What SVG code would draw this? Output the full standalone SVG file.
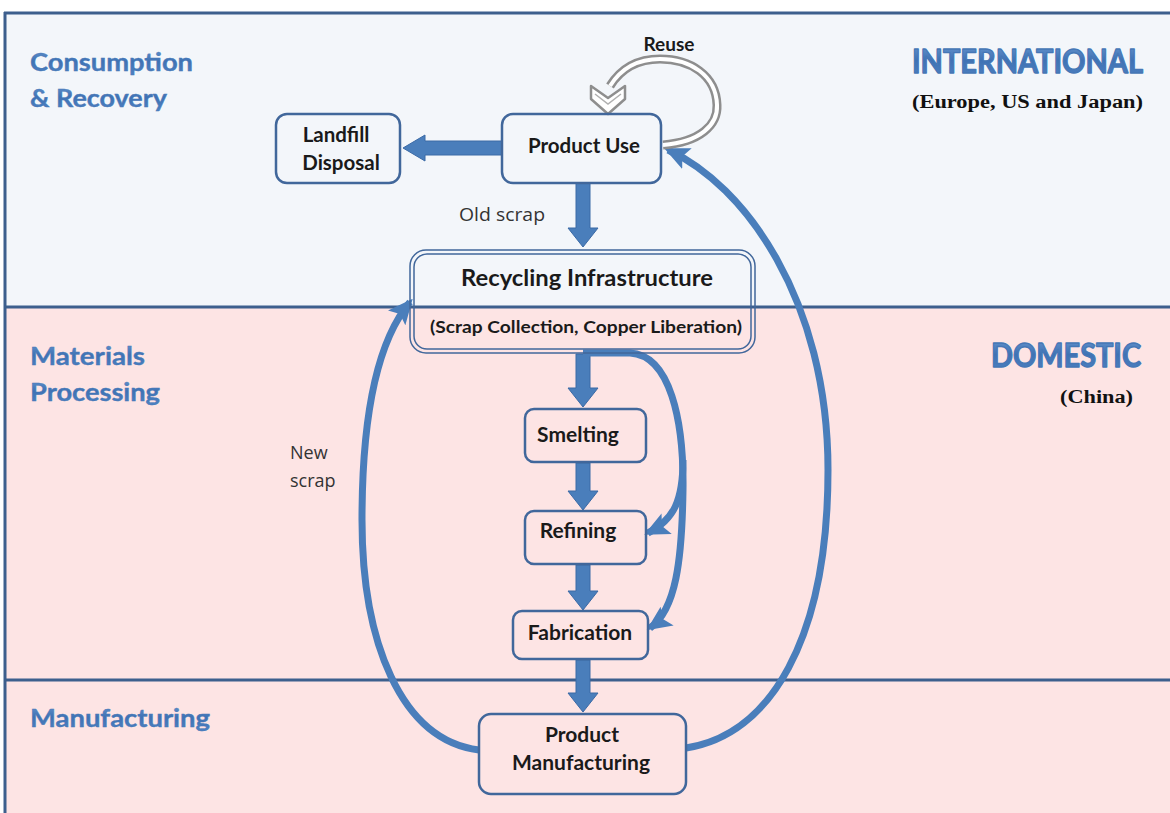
<svg xmlns="http://www.w3.org/2000/svg" width="1170" height="813" viewBox="0 0 1170 813">
  <style>
    .band-line { stroke: #3d5f8d; stroke-width: 3; fill: none; }
    .zone { font-family: Lato, "Open Sans", sans-serif; font-weight: bold; fill: url(#zoneGrad); stroke: #4577b6; stroke-width: 0.4; }
    .heavy { stroke-width: 1.3; stroke-linejoin: round; }
    .region { font-family: "Liberation Serif", serif; font-weight: bold; fill: #111; }
    .box { fill: none; stroke: #41679b; stroke-width: 2.5; }
    .label { font-family: Lato, "Open Sans", sans-serif; font-weight: bold; fill: #1a1a1a; text-anchor: middle; }
    .note { font-family: "Open Sans", Lato, sans-serif; fill: #333; }
    .block { fill: #4a7ebb; stroke: #3b6aa6; stroke-width: 1; }
    .flow { fill: none; stroke: #4a7ebb; stroke-width: 7; }
    .reuse-outer { fill: none; stroke: #8e8e8e; stroke-width: 9; }
    .reuse-inner { fill: none; stroke: #ffffff; stroke-width: 4; }
  </style>
  <defs>
    <linearGradient id="zoneGrad" x1="0" y1="0" x2="0" y2="1">
      <stop offset="0" stop-color="#6d9ad2"/>
      <stop offset="0.5" stop-color="#3f72b4"/>
      <stop offset="1" stop-color="#4f82c2"/>
    </linearGradient>
    <marker id="head" viewBox="0 0 24 22" refX="20" refY="11" markerWidth="25" markerHeight="23" markerUnits="userSpaceOnUse" orient="auto">
      <path d="M0,0 L24,11 L0,22 L5,11 z" fill="#4a7ebb"/>
    </marker>
  </defs>

  <!-- background bands -->
  <rect x="0" y="0" width="1170" height="813" fill="#ffffff"/>
  <rect x="5" y="13" width="1165" height="294" fill="#f3f6fa"/>
  <rect x="5" y="307" width="1165" height="506" fill="#fde4e4"/>
  <line class="band-line" x1="4" y1="13" x2="1170" y2="13"/>
  <line class="band-line" x1="5" y1="12" x2="5" y2="813"/>
  <line class="band-line" x1="5" y1="307" x2="1170" y2="307"/>
  <line class="band-line" x1="5" y1="680" x2="1170" y2="680"/>

  <!-- zone titles -->
  <g id="zones">
    <text class="zone" x="30" y="71" font-size="25" textLength="163" lengthAdjust="spacingAndGlyphs">Consumption</text>
    <text class="zone" x="30" y="107" font-size="25" textLength="137" lengthAdjust="spacingAndGlyphs">&amp; Recovery</text>
    <text class="zone" x="30" y="365" font-size="25" textLength="115" lengthAdjust="spacingAndGlyphs">Materials</text>
    <text class="zone" x="30" y="401" font-size="25" textLength="130" lengthAdjust="spacingAndGlyphs">Processing</text>
    <text class="zone" x="30" y="727" font-size="25" textLength="180" lengthAdjust="spacingAndGlyphs">Manufacturing</text>
    <text class="zone heavy" x="912" y="73" font-size="32" textLength="231" lengthAdjust="spacingAndGlyphs">INTERNATIONAL</text>
    <text class="region" x="912" y="108" font-size="18" textLength="231" lengthAdjust="spacingAndGlyphs">(Europe, US and Japan)</text>
    <text class="zone heavy" x="991" y="367" font-size="32" textLength="150" lengthAdjust="spacingAndGlyphs">DOMESTIC</text>
    <text class="region" x="1060" y="403" font-size="18" textLength="73" lengthAdjust="spacingAndGlyphs">(China)</text>
  </g>

  <!-- connectors -->
  <g id="connectors">
    <!-- straight block arrows -->
    <path class="block" d="M502,141 L425,141 L425,135 L403,148 L425,161 L425,155 L502,155 z"/>
    <path class="block" d="M576,183 L590,183 L590,228 L598,228 L583,247 L568,228 L576,228 z"/>
    <path class="block" d="M576,354 L590,354 L590,388 L598,388 L583,407 L568,388 L576,388 z"/>
    <path class="block" d="M576,463 L590,463 L590,491 L598,491 L583,510 L568,491 L576,491 z"/>
    <path class="block" d="M576,565 L590,565 L590,591 L598,591 L583,610 L568,591 L576,591 z"/>
    <path class="block" d="M576,660 L590,660 L590,693 L598,693 L583,712 L568,693 L576,693 z"/>

    <!-- new scrap loop and product loop -->
    <path class="flow" marker-end="url(#head)" d="M686,748 C770,735 828,640 828,470 C828,300 745,185 668,150"/>
    <path class="flow" marker-end="url(#head)" d="M479,750 C400,740 362,640 362,520 C362,410 378,340 410,302"/>

    <!-- bypass flows from recycling to refining and fabrication -->
    <path class="flow" marker-end="url(#head)" d="M583,353 L630,353 C670,355 684,420 683,490 C682,560 676,610 650,628"/>
    <path class="flow" marker-end="url(#head)" d="M683,460 C683,500 674,520 648,533"/>

    <!-- reuse loop -->
    <path class="reuse-outer" d="M663,145 C700,142 718,125 717,105 C716,75 690,59 660,59 C636,59 620,70 610,86"/>
    <path class="reuse-inner" d="M663,145 C700,142 718,125 717,105 C716,75 690,59 660,59 C636,59 620,70 610,86"/>
    <path d="M591,86 L608,98 L625,86 L625,99 L608,114 L591,99 z" fill="#ffffff" stroke="#8e8e8e" stroke-width="2.5" stroke-linejoin="round"/>
    <path d="M595,94 L608,104 L621,94" fill="none" stroke="#b0b0b0" stroke-width="1.5"/>
  </g>

  <!-- nodes -->
  <g id="landfill">
    <rect class="box" x="276" y="114" width="124" height="69" rx="11"/>
    <text class="label" x="336" y="142" font-size="20.5">Landfill</text>
    <text class="label" x="341" y="170" font-size="20.5">Disposal</text>
  </g>
  <g id="product-use">
    <rect class="box" x="502" y="114" width="159" height="69" rx="11"/>
    <text class="label" x="584" y="153" font-size="20.5">Product Use</text>
  </g>
  <g id="recycling">
    <rect x="410" y="250" width="345" height="103" rx="16" fill="none" stroke="#41679b" stroke-width="1.5"/>
    <rect x="414" y="254" width="337" height="95" rx="13" fill="none" stroke="#41679b" stroke-width="1.5"/>
    <text class="label" x="587" y="286" font-size="23" textLength="252" lengthAdjust="spacingAndGlyphs">Recycling Infrastructure</text>
    <text class="label" x="586" y="333" font-size="17.5" textLength="312" lengthAdjust="spacingAndGlyphs">(Scrap Collection,  Copper Liberation)</text>
  </g>
  <g id="smelting">
    <rect class="box" x="525" y="409" width="121" height="53" rx="9"/>
    <text class="label" x="578" y="442" font-size="21">Smelting</text>
  </g>
  <g id="refining">
    <rect class="box" x="525" y="511" width="121" height="53" rx="9"/>
    <text class="label" x="578" y="538" font-size="21">Refining</text>
  </g>
  <g id="fabrication">
    <rect class="box" x="513" y="611" width="135" height="48" rx="9"/>
    <text class="label" x="580" y="640" font-size="21">Fabrication</text>
  </g>
  <g id="product-manufacturing">
    <rect class="box" x="479" y="714" width="207" height="80" rx="12"/>
    <text class="label" x="582" y="742" font-size="21">Product</text>
    <text class="label" x="581" y="770" font-size="21">Manufacturing</text>
  </g>

  <!-- flow labels -->
  <g id="labels">
    <text class="label" x="669" y="51" font-size="19">Reuse</text>
    <text class="note" x="459" y="221" font-size="18" textLength="86" lengthAdjust="spacingAndGlyphs">Old scrap</text>
    <text class="note" x="290" y="459" font-size="18">New</text>
    <text class="note" x="290" y="487" font-size="18">scrap</text>
  </g>
</svg>
